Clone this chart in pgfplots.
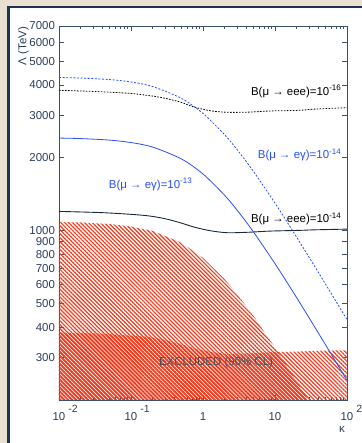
\documentclass[border=0pt]{standalone}
\usepackage{pgfplots}
\pgfplotsset{compat=1.18}
\usetikzlibrary{patterns.meta}
\usepackage{fontspec}
\setmainfont{Liberation Sans}

\definecolor{beige}{RGB}{233,224,210}
\definecolor{framenavy}{RGB}{28,52,82}
\definecolor{axiscol}{RGB}{60,80,110}
\definecolor{ticktext}{RGB}{45,62,92}
\definecolor{curveblue}{RGB}{40,80,245}
\definecolor{curvedark}{RGB}{25,40,60}
\definecolor{hatch}{RGB}{242,58,28}
\definecolor{exctext}{RGB}{70,80,95}

% exponent hanging to the right of a centred "10"
\newcommand\xsup[1]{\rlap{\hspace{3bp}\smash{\raisebox{8bp}{\fontsize{10.5}{10.5}\selectfont #1}}}}

\tikzset{
  hatchA/.style={draw=none, pattern={Lines[angle=-45,distance=2.8bp,line width=1.2bp]}, pattern color=hatch},
  hatchB/.style={draw=none, pattern={Lines[angle=-45,distance=2.8bp,line width=1.2bp,xshift=1bp]}, pattern color=hatch},
}

\begin{document}
\fontsize{11.5}{13.5}\selectfont
\begin{tikzpicture}
\useasboundingbox (0,0) rectangle (362bp,443bp);
% slide background and frame
\fill[beige] (0,0) rectangle (362bp,443bp);
\fill[white] (10bp,0) rectangle (362bp,435bp);
\fill[framenavy] (7bp,0) rectangle (10bp,437bp);
\fill[framenavy] (7bp,435bp) rectangle (362bp,437bp);

\begin{axis}[
  at={(59bp,43bp)}, anchor=south west,
  scale only axis, width=288bp, height=374bp,
  xmode=log, ymode=log,
  xmin=0.01, xmax=100, ymin=200, ymax=7000,
  axis line style={axiscol, line width=0.9pt},
  tick style={axiscol, line width=0.6pt},
  tick align=inside,
  major tick length=5bp, minor tick length=3bp,
  xtick={0.01,0.1,1,10,100},
  xticklabels={10\xsup{-2},10\xsup{-1},1,10,10\xsup{2}},
  minor xtick={0.02,0.03,0.04,0.05,0.06,0.07,0.08,0.09,0.2,0.3,0.4,0.5,0.6,0.7,0.8,0.9,2,3,4,5,6,7,8,9,20,30,40,50,60,70,80,90},
  ytick={300,400,500,600,700,800,900,1000,2000,3000,4000,5000,6000,7000},
  yticklabels={300,400,500,600,700,800,900,1000,2000,3000,4000,5000,6000,7000},
  yminorticks=false,
  ticklabel style={font=\fontsize{11.5}{13.5}\selectfont, text=ticktext},
  xticklabel style={anchor=base, yshift=-21bp},
  clip=true,
]

% excluded by mu -> e gamma
\addplot[hatchA] coordinates {
  (0.01,1087) (0.02,1081) (0.05,1066) (0.1,1041) (0.2,997) (0.5,892)
  (1,772) (2,630) (3,546) (5,446) (10,329) (20,238) (28.8,200) (0.01,200)
} -- cycle;

% excluded by mu -> eee
\addplot[hatchB] coordinates {
  (0.01,380) (0.037,376) (0.1,369) (0.18,364) (0.3,354) (0.5,340)
  (0.75,327) (1.25,316) (2.15,310) (4.2,311) (8.5,315) (22,317)
  (35,319) (100,321) (100,200) (0.01,200)
} -- cycle;

% B(mu -> eee) = 1e-16
\addplot[black, line width=0.8pt, dash pattern=on 1.6pt off 1.4pt, smooth] coordinates {
  (0.01,3798) (0.037,3748) (0.107,3678) (0.253,3554) (0.48,3399)
  (0.726,3250) (1.25,3129) (2.15,3082) (4.2,3085) (8.5,3120)
  (22,3140) (35,3175) (100,3220)
};

% B(mu -> eee) = 1e-14
\addplot[curvedark, line width=0.9pt, smooth] coordinates {
  (0.01,1201) (0.037,1188) (0.1,1168) (0.18,1150) (0.3,1120) (0.5,1075)
  (0.75,1035) (1.25,1000) (2.15,981) (4.2,985) (8.5,996) (22,1003)
  (35,1008) (100,1015)
};

% B(mu -> e gamma) = 1e-14
\addplot[curveblue, line width=0.8pt, dash pattern=on 2pt off 1.6pt, smooth] coordinates {
  (0.01,4289) (0.02,4267) (0.05,4206) (0.1,4110) (0.2,3935) (0.5,3519)
  (1,3048) (2,2488) (3,2155) (5,1760) (10,1300) (20,940) (30,774)
  (50,604) (100,429)
};

% B(mu -> e gamma) = 1e-13
\addplot[curveblue, line width=0.8pt, smooth] coordinates {
  (0.01,2412) (0.02,2400) (0.05,2366) (0.1,2311) (0.2,2213) (0.5,1979)
  (1,1714) (2,1399) (3,1212) (5,990) (10,731) (20,529) (30,435)
  (50,339) (100,241)
};

\node[anchor=base west, text=black] at (axis cs:4.09,3631) {B(μ → eee)=10\textsuperscript{-16}};
\node[anchor=base west, text=curveblue] at (axis cs:5.1,1977) {B(μ → eγ)=10\textsuperscript{-14}};
\node[anchor=base west, text=curveblue] at (axis cs:0.0435,1496) {B(μ → eγ)=10\textsuperscript{-13}};
\node[anchor=base west, text=black] at (axis cs:4.09,1079) {B(μ → eee)=10\textsuperscript{-14}};
\node[anchor=base west, text=exctext] at (axis cs:0.2154,277) {EXCLUDED (90\% CL)};
\end{axis}

\node[rotate=90, text=ticktext] at (23.5bp,397bp) {Λ (TeV)};
\node[text=ticktext] at (342bp,14bp) {κ};
\end{tikzpicture}
\end{document}
